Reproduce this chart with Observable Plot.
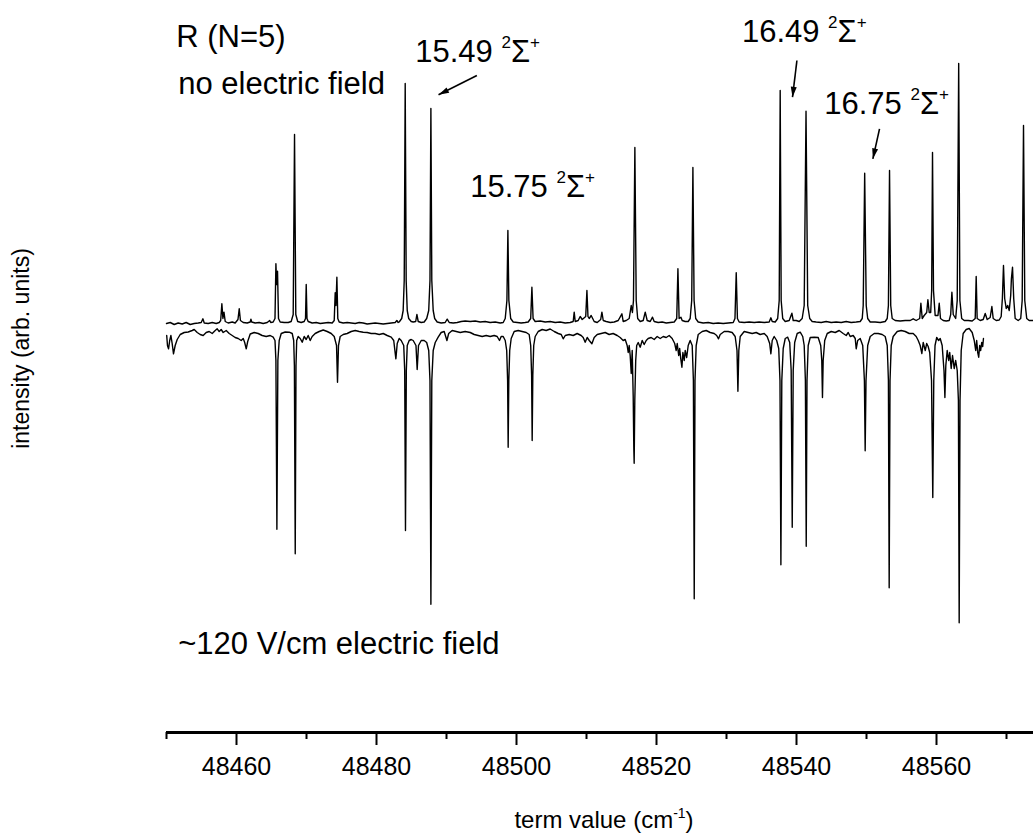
<!DOCTYPE html>
<html>
<head>
<meta charset="utf-8">
<script src="https://cdn.jsdelivr.net/npm/d3@7"></script>
<script src="https://cdn.jsdelivr.net/npm/@observablehq/plot@0.6"></script>
<style>
  html, body { margin: 0; padding: 0; background: #fff; }
</style>
</head>
<body>
<div id="chart"></div>
<script>
// R(N=5) spectrum, term value (cm^-1) vs intensity (arb. units).
// Upper trace: no electric field. Lower trace: ~120 V/cm field, drawn inverted below.
const noFieldTrace = [
  [48450.00,-1],[48450.53,0],[48451.10,-2],[48451.67,-0.5],[48452.24,-1.5],[48452.81,0],[48453.39,-2],[48453.96,-1],
  [48454.53,-0.5],[48454.96,0],[48455.20,3.7],[48455.39,-0.5],[48455.96,-1],[48456.53,0],[48457.10,-1],[48457.53,0],
  [48457.74,2],[48457.91,18.7],[48458.06,4],[48458.21,10.3],[48458.39,1],[48458.81,-0.5],[48459.39,0.5],[48459.81,-0.5],
  [48460.21,3],[48460.39,13.7],[48460.56,2],[48460.96,0],[48461.53,-0.5],[48461.96,0.5],[48462.06,3.3],[48462.17,0.5],
  [48462.67,-0.5],[48463.24,0],[48463.81,-1],[48464.39,0],[48464.74,2],[48464.89,0],[48465.24,0.5],[48465.50,4],
  [48465.63,58.7],[48465.74,38],[48465.86,51.3],[48466.00,4],[48466.24,0.5],[48466.81,0],[48467.39,0],[48467.81,1],
  [48468.10,8],[48468.29,188],[48468.47,8],[48468.74,1],[48469.24,0],[48469.67,1],[48469.86,4],[48469.96,38],
  [48470.07,4],[48470.24,1],[48470.81,-0.5],[48471.39,0],[48471.96,-1],[48472.53,-0.5],[48473.10,0],[48473.67,-0.5],
  [48473.96,2],[48474.10,29.7],[48474.21,17],[48474.34,45.3],[48474.47,4],[48474.67,0.5],[48475.24,-0.5],[48475.81,0],
  [48476.39,-0.5],[48476.96,-1],[48477.53,0],[48478.10,-0.5],[48478.67,-1.5],[48479.24,-1],[48479.81,-0.5],[48480.39,-1],
  [48480.96,-1.5],[48481.53,-1],[48482.10,-0.5],[48482.67,0],[48482.91,2],[48483.10,0],[48483.24,0.5],[48483.60,4],
  [48483.81,12],[48483.96,42],[48484.10,239],[48484.24,42],[48484.39,12],[48484.60,4],[48484.96,1],[48485.24,0.5],
  [48485.60,1],[48485.77,8],[48485.96,1],[48486.39,0],[48486.81,0.5],[48487.17,4],[48487.46,12],[48487.64,42],
  [48487.77,214],[48487.90,42],[48488.10,12],[48488.31,4],[48488.67,0.5],[48489.24,-0.5],[48489.81,0],[48490.10,3.3],
  [48490.39,0],[48490.96,-0.5],[48491.53,0],[48492.10,1],[48492.67,1.5],[48493.39,1],[48494.10,1.5],[48494.81,0.5],
  [48495.53,1],[48496.24,0],[48496.96,0.5],[48497.67,-0.5],[48498.10,0],[48498.39,4],[48498.63,22],[48498.77,92],
  [48498.91,22],[48499.17,4],[48499.53,0.5],[48500.10,0],[48500.67,-0.5],[48501.24,0],[48501.67,0.5],[48502.03,4],
  [48502.20,35.3],[48502.37,4],[48502.67,1],[48503.39,1.5],[48504.10,0.5],[48504.81,1],[48505.53,0],[48506.24,0.5],
  [48506.96,-0.5],[48507.67,0],[48508.10,1],[48508.24,10.3],[48508.39,1],[48508.81,2],[48509.10,6],[48509.39,3],
  [48509.89,6],[48510.06,32],[48510.21,6],[48510.39,4],[48510.67,7],[48510.81,5],[48511.10,1],[48511.53,0],
  [48512.03,3],[48512.20,10.3],[48512.39,2],[48512.81,1],[48513.39,0],[48513.96,0.5],[48514.53,2],[48515.06,8.7],
  [48515.24,1],[48515.67,2],[48516.10,4],[48516.39,17],[48516.56,10],[48516.71,22],[48516.91,175],[48517.10,22],
  [48517.31,4],[48517.67,1],[48518.10,2],[48518.39,10.3],[48518.67,2],[48519.10,1],[48519.43,5.3],[48519.67,1],
  [48520.24,0],[48520.81,0.5],[48521.39,-0.5],[48521.96,0],[48522.53,0.5],[48522.89,4],[48523.06,53.7],[48523.23,4],
  [48523.49,5.3],[48523.67,2],[48524.10,1],[48524.53,1],[48524.81,4],[48525.03,22],[48525.20,155],[48525.37,22],
  [48525.60,4],[48525.96,0.5],[48526.67,-0.5],[48527.39,0],[48528.10,-1],[48528.81,-0.5],[48529.53,-1],[48530.24,-0.5],
  [48530.96,0],[48531.21,4],[48531.39,49.7],[48531.56,4],[48531.81,0.5],[48532.53,0],[48533.24,0.5],[48533.96,0],
  [48534.67,0.5],[48535.39,0],[48536.10,0.5],[48536.34,4.7],[48536.53,1],[48536.96,0.5],[48537.31,4],[48537.53,22],
  [48537.67,232],[48537.81,22],[48538.03,4],[48538.39,1],[48538.96,2],[48539.34,9.3],[48539.53,2],[48539.96,2],
  [48540.39,1],[48540.81,4],[48541.10,17],[48541.36,211.3],[48541.60,17],[48541.89,4],[48542.24,1],[48542.81,0.5],
  [48543.53,0],[48544.24,1],[48544.96,0],[48545.67,0.5],[48546.39,0],[48547.10,1],[48547.81,0],[48548.53,0.5],
  [48549.10,1],[48549.39,4],[48549.53,17],[48549.74,149.3],[48549.96,17],[48550.17,4],[48550.53,0.5],[48551.24,0.5],
  [48551.96,0],[48552.67,1],[48552.96,4],[48553.13,17],[48553.29,152],[48553.46,17],[48553.67,4],[48554.10,2],
  [48554.81,1.5],[48555.53,2],[48556.24,2],[48556.67,3.7],[48557.10,2],[48557.60,4],[48557.77,19.3],[48557.96,4],
  [48558.24,7],[48558.60,10],[48558.77,22.7],[48558.96,10],[48559.17,10],[48559.31,32],[48559.43,170],[48559.57,32],
  [48559.81,7],[48560.21,7],[48560.39,19.3],[48560.57,4],[48560.96,2],[48561.39,1.5],[48561.81,2],[48562.03,8],
  [48562.20,30.3],[48562.39,8],[48562.74,4],[48562.96,22],[48563.17,259],[48563.34,22],[48563.60,4],[48563.96,2],
  [48564.53,2],[48565.10,1.5],[48565.53,4],[48565.67,46],[48565.81,4],[48566.24,2],[48566.67,3],[48566.96,9],
  [48567.24,3],[48567.67,5],[48567.91,16],[48568.10,4],[48568.53,2],[48568.96,2.5],[48569.24,6],[48569.41,24],
  [48569.57,57],[48569.74,24],[48569.96,14],[48570.17,17],[48570.39,12],[48570.60,27],[48570.70,43.7],[48570.86,55.3],
  [48571.03,24],[48571.24,4],[48571.67,2],[48572.03,4],[48572.24,22],[48572.43,197],[48572.61,22],[48572.89,4],
  [48573.24,2],[48573.80,2]
];

const fieldTrace = [
  [48450.03,-13],[48450.14,-23],[48450.29,-26.3],[48450.46,-18],[48450.63,-13],[48450.81,-21],[48451.00,-31.3],[48451.24,-23],
  [48451.53,-17],[48451.96,-12],[48452.53,-10],[48453.10,-9.5],[48453.67,-8],[48453.96,-7],[48454.39,-10],[48454.81,-12],
  [48455.24,-13],[48455.67,-10],[48456.10,-9],[48456.53,-11],[48456.96,-8],[48457.24,-6.3],[48457.53,-9],[48457.81,-7],
  [48458.10,-10],[48458.53,-8],[48458.96,-11],[48459.39,-13],[48459.81,-15],[48460.24,-16],[48460.67,-18],[48460.96,-16],
  [48461.17,-20],[48461.39,-26.3],[48461.60,-19],[48461.96,-11.5],[48462.53,-10],[48463.10,-11],[48463.67,-13],[48464.24,-14],
  [48464.81,-13],[48465.24,-14.7],[48465.50,-18],[48465.63,-38],[48465.77,-206.7],[48465.91,-38],[48466.10,-18],[48466.39,-11],
  [48466.96,-9.5],[48467.53,-9.7],[48467.96,-11],[48468.17,-18],[48468.27,-43],[48468.39,-231.3],[48468.50,-43],[48468.60,-18],
  [48468.81,-14],[48469.10,-16],[48469.39,-19.7],[48469.67,-14],[48469.96,-17],[48470.24,-13],[48470.53,-18],[48470.81,-14],
  [48471.24,-11],[48471.81,-9],[48472.39,-7.5],[48472.96,-9],[48473.53,-11],[48473.96,-14],[48474.29,-23],[48474.43,-59.7],
  [48474.57,-23],[48474.81,-14],[48475.24,-12],[48475.81,-11],[48476.39,-9],[48476.96,-8],[48477.53,-9],[48478.10,-9.7],
  [48478.67,-10],[48479.24,-11],[48479.81,-11],[48480.39,-12],[48480.96,-11],[48481.53,-13],[48482.10,-14.7],[48482.46,-18],
  [48482.77,-36.3],[48482.96,-21],[48483.24,-16],[48483.53,-18],[48483.89,-23],[48484.03,-48],[48484.14,-208],[48484.26,-48],
  [48484.39,-23],[48484.67,-18],[48484.96,-17],[48485.24,-18],[48485.64,-23],[48485.81,-47],[48486.00,-23],[48486.39,-18],
  [48486.81,-18],[48487.17,-20],[48487.46,-28],[48487.64,-58],[48487.77,-281.7],[48487.90,-58],[48488.10,-28],[48488.39,-20],
  [48488.81,-14.7],[48489.24,-10],[48489.67,-9],[48490.06,-18],[48490.31,-11],[48490.81,-8],[48491.39,-9],[48491.96,-10],
  [48492.67,-9],[48493.39,-10],[48493.96,-12],[48494.53,-13],[48495.10,-14],[48495.67,-13],[48496.24,-14],[48496.81,-13],
  [48497.24,-14],[48497.57,-18],[48497.81,-14],[48498.10,-14],[48498.39,-18],[48498.60,-28],[48498.73,-58],[48498.81,-124.7],
  [48498.90,-58],[48499.03,-28],[48499.24,-16],[48499.67,-9],[48500.24,-8],[48500.81,-9],[48501.39,-10],[48501.81,-12],
  [48502.03,-23],[48502.16,-53],[48502.24,-118],[48502.33,-53],[48502.46,-23],[48502.67,-14],[48503.10,-9],[48503.67,-7],
  [48504.24,-8],[48504.81,-6.5],[48505.39,-9],[48505.96,-11],[48506.39,-12],[48506.67,-16.3],[48506.96,-13],[48507.53,-12],
  [48508.10,-13],[48508.67,-11],[48509.24,-13],[48509.53,-15],[48509.81,-19.7],[48510.10,-15],[48510.39,-18],[48510.77,-21.3],
  [48511.10,-15],[48511.53,-12],[48512.10,-11],[48512.67,-10],[48513.24,-12],[48513.81,-11],[48514.39,-13],[48514.81,-15],
  [48515.24,-18],[48515.53,-17],[48515.81,-23],[48515.96,-30],[48516.10,-23],[48516.24,-33],[48516.39,-51],[48516.53,-28],
  [48516.67,-73],[48516.76,-126],[48516.81,-140.7],[48516.90,-78],[48517.03,-38],[48517.17,-23],[48517.39,-20],[48517.67,-24.7],
  [48517.96,-18],[48518.24,-22],[48518.53,-18],[48518.81,-16],[48519.24,-15],[48519.67,-17],[48520.10,-14],[48520.53,-16],
  [48520.96,-14],[48521.39,-15],[48521.81,-13],[48522.24,-16],[48522.60,-21],[48522.81,-28],[48522.96,-21],[48523.17,-33],
  [48523.31,-26],[48523.46,-36],[48523.63,-44.7],[48523.77,-30],[48523.96,-38],[48524.10,-28],[48524.31,-35],[48524.53,-23],
  [48524.81,-18],[48525.10,-23],[48525.27,-58],[48525.39,-276.3],[48525.50,-58],[48525.67,-23],[48525.96,-12],[48526.53,-9],
  [48527.10,-8],[48527.67,-10],[48528.24,-11],[48528.60,-13],[48528.86,-16.3],[48529.10,-12],[48529.67,-9],[48530.24,-9],
  [48530.81,-10],[48531.24,-14],[48531.50,-28],[48531.63,-68.7],[48531.76,-28],[48531.96,-14],[48532.53,-9],[48533.10,-10],
  [48533.67,-11],[48534.24,-10],[48534.81,-12],[48535.39,-11],[48535.81,-14],[48536.17,-21],[48536.34,-31.3],[48536.53,-18],
  [48536.81,-14],[48537.17,-18],[48537.46,-26],[48537.64,-58],[48537.77,-242.3],[48537.90,-58],[48538.10,-26],[48538.39,-16],
  [48538.74,-14.7],[48539.03,-20],[48539.24,-48],[48539.39,-204.7],[48539.53,-48],[48539.74,-20],[48540.10,-11],[48540.53,-9.7],
  [48540.89,-14],[48541.10,-23],[48541.27,-58],[48541.39,-223.7],[48541.50,-58],[48541.67,-23],[48541.96,-15],[48542.53,-14.7],
  [48543.10,-15],[48543.46,-23],[48543.61,-38],[48543.71,-75],[48543.81,-38],[48544.03,-18],[48544.39,-11],[48544.96,-9],
  [48545.53,-10],[48546.10,-8],[48546.67,-11],[48547.10,-13],[48547.39,-10],[48547.67,-14],[48548.10,-13],[48548.39,-16],
  [48548.53,-26.3],[48548.74,-18],[48549.10,-16],[48549.46,-23],[48549.70,-58],[48549.81,-128.3],[48549.93,-58],[48550.17,-23],
  [48550.53,-14],[48551.10,-11],[48551.67,-11],[48552.24,-12],[48552.67,-14],[48552.96,-23],[48553.13,-58],[48553.24,-265.3],
  [48553.36,-58],[48553.53,-23],[48553.81,-14],[48554.39,-9],[48554.96,-8],[48555.53,-9],[48556.10,-11],[48556.67,-11],
  [48557.10,-14],[48557.39,-18],[48557.67,-23],[48557.91,-31],[48558.10,-20],[48558.39,-28],[48558.60,-21],[48558.81,-24],
  [48559.03,-30],[48559.29,-58],[48559.47,-175],[48559.61,-58],[48559.79,-23],[48560.03,-15],[48560.31,-18],[48560.53,-16],
  [48560.81,-23],[48561.07,-48],[48561.20,-75],[48561.33,-43],[48561.53,-28],[48561.74,-38],[48561.89,-30],[48562.10,-46],
  [48562.29,-33],[48562.53,-46],[48562.74,-38],[48562.96,-48],[48563.13,-78],[48563.24,-300.3],[48563.36,-78],[48563.53,-28],
  [48563.81,-11],[48564.24,-7],[48564.67,-6],[48565.10,-10],[48565.39,-18],[48565.60,-28],[48565.74,-18],[48565.89,-30],
  [48566.03,-34.7],[48566.17,-23],[48566.31,-28],[48566.46,-20],[48566.60,-24],[48566.71,-16]
];

// Axis ticks (cm^-1)
const majorTicks = [48460, 48480, 48500, 48520, 48540, 48560];
const minorTicks = [48450, 48470, 48490, 48510, 48530, 48550, 48570];

// Free-text notes: text, term value, intensity (baseline position)
const noteText = ["R (N=5)", "no electric field", "~120 V/cm electric field"];
const noteX = [48451.39, 48451.67, 48451.67];
const noteY = [276, 228.7, -331];

// Assigned Rydberg states (effective principal quantum number, 2Σ+)
const stateNames = ["15.49", "15.75", "16.49", "16.75"];
const stateX = [48485.53, 48493.39, 48532.20, 48543.96];
const stateY = [260.3, 125.3, 280.3, 208.7];

// Arrows from labels towards their lines
const arrowFromX = [48494.34, 48540.06, 48551.86];
const arrowFromY = [247, 262, 193.7];
const arrowToX = [48488.86, 48539.43, 48550.91];
const arrowToY = [227.7, 225.3, 163.7];

const xTitle = "term value (cm";
const yTitle = "intensity (arb. units)";

const FONT = '"Liberation Sans", Arial, Helvetica, sans-serif';
const W = 1033, H = 833;
const mLeft = 166, mBottom = 101;
const xDomain = [48450, 48450 + (W - mLeft) / 7];
const yDomain = [-410, 322];

const notes = noteText.map((t, i) => ({text: t, x: noteX[i], y: noteY[i]}));
const states = stateNames.map((t, i) => ({text: t, x: stateX[i], y: stateY[i]}));
const arrows = arrowFromX.map((x, i) => ({x1: x, y1: arrowFromY[i], x2: arrowToX[i], y2: arrowToY[i]}));

// pixels per data unit, used to orient the arrowheads on screen
const kx = (W - mLeft) / (xDomain[1] - xDomain[0]);
const ky = (H - mBottom) / (yDomain[1] - yDomain[0]);
const headAngle = d => Math.atan2((d.x2 - d.x1) * kx, (d.y2 - d.y1) * ky) * 180 / Math.PI;

// narrow filled arrowhead, tip at the origin
const arrowHead = {
  draw(context, size) {
    const r = Math.sqrt(size / Math.PI);
    context.moveTo(0, 0);
    context.lineTo(-r * 0.6, r * 2.1);
    context.lineTo(r * 0.6, r * 2.1);
    context.closePath();
  }
};

const plot = Plot.plot({
  width: W,
  height: H,
  marginLeft: mLeft,
  marginRight: 0,
  marginTop: 0,
  marginBottom: mBottom,
  x: {domain: xDomain},
  y: {domain: yDomain, axis: null},
  style: {fontFamily: FONT, background: "white", color: "black", overflow: "visible"},
  marks: [
    Plot.line(noFieldTrace, {x: d => d[0], y: d => d[1], stroke: "black", strokeWidth: 1.4}),
    Plot.line(fieldTrace, {x: d => d[0], y: d => d[1], stroke: "black", strokeWidth: 1.4}),
    Plot.ruleY([yDomain[0]], {stroke: "black", strokeWidth: 3}),
    Plot.axisX({ticks: majorTicks, tickSize: 13, tickPadding: 12, strokeWidth: 2, fontSize: 25,
                tickFormat: d => String(d), label: null}),
    Plot.axisX({ticks: minorTicks, tickSize: 7, strokeWidth: 2, tickFormat: () => "", label: null}),
    Plot.text(notes, {x: "x", y: "y", text: "text", textAnchor: "start", lineAnchor: "bottom", fontSize: 31}),
    Plot.text(states, {x: "x", y: "y", text: "text", textAnchor: "start", lineAnchor: "bottom", fontSize: 31}),
    Plot.link(arrows, {x1: "x1", y1: "y1", x2: "x2", y2: "y2", stroke: "black", strokeWidth: 1.6}),
    Plot.dot(arrows, {x: "x2", y: "y2", symbol: arrowHead, r: 5, fill: "black", stroke: "none", rotate: headAngle}),
    Plot.text([xTitle], {text: d => d, frameAnchor: "bottom", dx: 4, dy: 95, lineAnchor: "bottom",
                         textAnchor: "middle", fontSize: 24}),
    Plot.text([yTitle], {text: d => d, frameAnchor: "left", dx: -137.5, dy: -18, rotate: -90,
                         lineAnchor: "bottom", textAnchor: "middle", fontSize: 23})
  ]
});

const svg = d3.select(plot);

// state labels: "n* ²Σ⁺" with raised 2 and +
svg.selectAll("text")
  .filter(function () { return this.childElementCount === 0 && stateNames.includes(this.textContent); })
  .each(function () {
    const t = d3.select(this);
    const base = this.textContent;
    t.text(null).style("white-space", "pre");
    t.append("tspan").text(base + " ");
    t.append("tspan").attr("font-size", 17).attr("dy", -14).text("2");
    t.append("tspan").attr("font-size", 31).attr("dy", 14).text("\u03A3");
    t.append("tspan").attr("font-size", 17).attr("dy", -14).text("+");
  });

// axis title unit with superscript -1
svg.selectAll("text")
  .filter(function () { return this.childElementCount === 0 && this.textContent === xTitle; })
  .each(function () {
    const t = d3.select(this);
    t.append("tspan").attr("font-size", 14).attr("dy", -10).text("-1");
    t.append("tspan").attr("font-size", 24).attr("dy", 10).text(")");
  });

document.getElementById("chart").appendChild(plot);
</script>
</body>
</html>
